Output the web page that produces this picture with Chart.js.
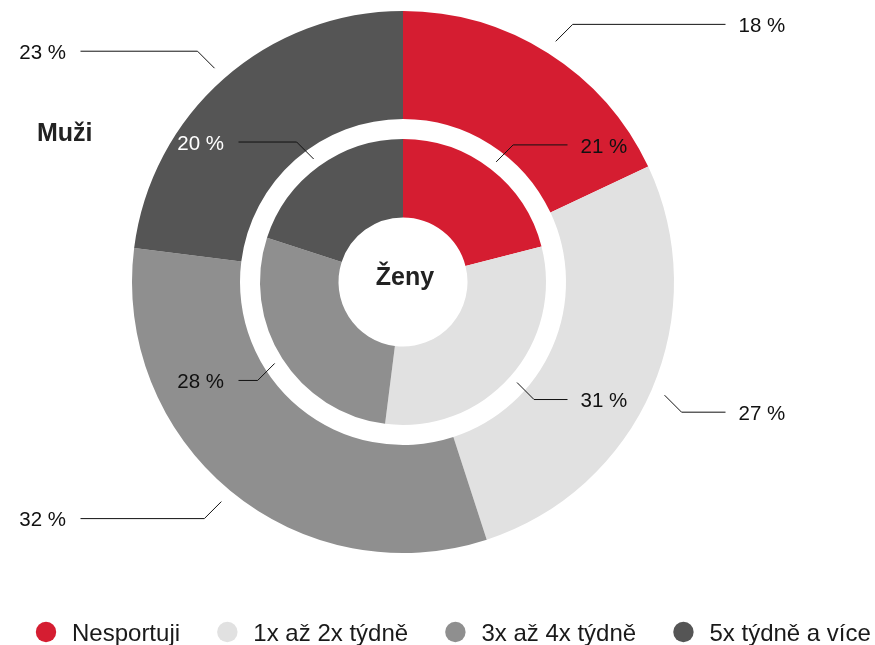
<!DOCTYPE html>
<html lang="cs">
<head>
<meta charset="utf-8">
<title>Sportovní aktivita – muži a ženy</title>
<script src="https://cdn.jsdelivr.net/npm/chart.js@4/dist/chart.umd.min.js"></script>
<style>
  html, body { margin: 0; padding: 0; background: #ffffff; }
  #wrap { width: 875px; height: 645px; }
</style>
</head>
<body>
<div id="wrap"><canvas id="chart" width="875" height="645"></canvas></div>
<script>
// Kategorie a podíly (v %)
const categories = ['Nesportuji', '1x až 2x týdně', '3x až 4x týdně', '5x týdně a více'];
const muzi = [18, 27, 32, 23];   // vnější prstenec
const zeny = [21, 31, 28, 20];   // vnitřní prstenec
const colors = ['#D51D31', '#E1E1E1', '#8F8F8F', '#555555'];
const innerLabelColors = ['#111111', '#111111', '#111111', '#FFFFFF'];

const FONT = "'Liberation Sans', Arial, Helvetica, sans-serif";

// Popisky s vodicími čarami pro oba prstence
const leaderLabels = {
  id: 'leaderLabels',
  afterDatasetsDraw(chart) {
    const ctx = chart.ctx;
    const rings = [
      { index: 0, values: muzi, gap: 14, reach: 322.5, textColors: null },
      { index: 2, values: zeny, gap: 9, reach: 164.5, textColors: innerLabelColors }
    ];
    ctx.save();
    ctx.font = '20.5px ' + FONT;
    ctx.lineWidth = 1;
    ctx.strokeStyle = '#111111';
    rings.forEach(ring => {
      const meta = chart.getDatasetMeta(ring.index);
      meta.data.forEach((arc, i) => {
        const p = arc.getProps(['x', 'y', 'startAngle', 'endAngle', 'outerRadius'], true);
        const mid = (p.startAngle + p.endAngle) / 2;
        const r = p.outerRadius + ring.gap;
        const sx = Math.cos(mid) >= 0 ? 1 : -1;
        const sy = Math.sin(mid) >= 0 ? 1 : -1;
        const x0 = p.x + Math.cos(mid) * r;
        const y0 = p.y + Math.sin(mid) * r;
        const x1 = x0 + sx * 17;
        const y1 = y0 + sy * 17;
        const x2 = p.x + sx * ring.reach;
        ctx.beginPath();
        ctx.moveTo(x0, y0);
        ctx.lineTo(x1, y1);
        ctx.lineTo(x2, y1);
        ctx.stroke();
        ctx.fillStyle = ring.textColors ? ring.textColors[i] : '#111111';
        ctx.textBaseline = 'alphabetic';
        const label = ring.values[i] + ' %';
        if (sx > 0) {
          ctx.textAlign = 'left';
          ctx.fillText(label, x2 + 13, y1 + 7.7);
        } else {
          ctx.textAlign = 'right';
          ctx.fillText(label, x2 - 14.5, y1 + 7.7);
        }
      });
    });
    ctx.restore();
  }
};

// Nadpisy prstenců
const ringTitles = {
  id: 'ringTitles',
  afterDraw(chart) {
    const ctx = chart.ctx;
    const arc = chart.getDatasetMeta(2).data[0];
    const c = arc.getProps(['x', 'y'], true);
    ctx.save();
    ctx.font = 'bold 25px ' + FONT;
    ctx.fillStyle = '#222222';
    ctx.textBaseline = 'alphabetic';
    ctx.textAlign = 'left';
    ctx.fillText('Muži', 37, 141);
    ctx.textAlign = 'center';
    ctx.fillText('Ženy', c.x + 2, c.y + 2.5);
    ctx.restore();
  }
};

// Legenda v jednom řádku pod grafem
const rowLegend = {
  id: 'rowLegend',
  afterDraw(chart) {
    const ctx = chart.ctx;
    ctx.save();
    ctx.font = '24px ' + FONT;
    ctx.textAlign = 'left';
    ctx.textBaseline = 'alphabetic';
    const cy = 632;
    let x = 46;
    categories.forEach((name, i) => {
      ctx.fillStyle = colors[i];
      ctx.beginPath();
      ctx.arc(x, cy, 10.2, 0, Math.PI * 2);
      ctx.fill();
      ctx.fillStyle = '#1A1A1A';
      const tx = x + 26;
      ctx.fillText(name, tx, cy + 9);
      x = tx + ctx.measureText(name).width + 47.3;
    });
    ctx.restore();
  }
};

new Chart(document.getElementById('chart'), {
  type: 'doughnut',
  data: {
    labels: categories,
    datasets: [
      { label: 'Muži', data: muzi, backgroundColor: colors, weight: 108 },
      { label: '', data: [1], backgroundColor: ['rgba(0,0,0,0)'], weight: 20 },
      { label: 'Ženy', data: zeny, backgroundColor: colors, weight: 78.5 }
    ]
  },
  options: {
    responsive: false,
    devicePixelRatio: 1,
    animation: false,
    cutout: '23.8%',
    borderWidth: 0,
    hoverBorderWidth: 0,
    hoverOffset: 0,
    offset: 0,
    layout: { padding: { top: 11, bottom: 92, left: 0, right: 69 } },
    plugins: {
      legend: { display: false },
      tooltip: { enabled: false }
    },
    elements: { arc: { borderWidth: 0 } }
  },
  plugins: [leaderLabels, ringTitles, rowLegend]
});
</script>
</body>
</html>
